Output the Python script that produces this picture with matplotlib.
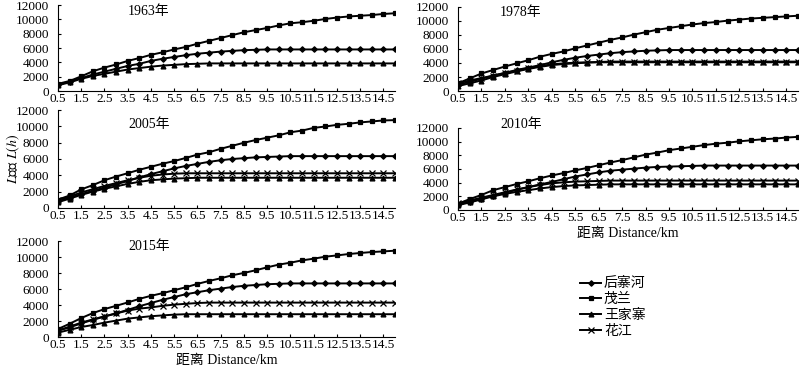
import numpy as np
import matplotlib
matplotlib.use('Agg')
import matplotlib.pyplot as plt

plt.rcParams['font.family'] = ['Liberation Serif', 'Noto Sans CJK SC']
plt.rcParams['mathtext.fontset'] = 'stix'

# distance (km), 0.5 .. 15.0
dist = [0.5, 1.0, 1.5, 2.0, 2.5, 3.0, 3.5, 4.0, 4.5, 5.0,
        5.5, 6.0, 6.5, 7.0, 7.5, 8.0, 8.5, 9.0, 9.5, 10.0,
        10.5, 11.0, 11.5, 12.0, 12.5, 13.0, 13.5, 14.0, 14.5, 15.0]
tick_pos = [0.5, 1.5, 2.5, 3.5, 4.5, 5.5, 6.5, 7.5, 8.5, 9.5, 10.5, 11.5, 12.5, 13.5, 14.5]
tick_lab = ['0.5', '1.5', '2.5', '3.5', '4.5', '5.5', '6.5', '7.5', '8.5', '9.5',
            '10.5', '11.5', '12.5', '13.5', '14.5']

names = ['后寨河', '茂兰', '王家寨', '花江']
markers = ['D', 's', '^', 'x']
msizes = [2.8, 3.3, 3.5, 3.8]

# 1963
hzh_1963 = [900, 1300, 1800, 2300, 2700, 3100, 3500, 3800, 4200, 4500,
            4750, 5000, 5200, 5350, 5500, 5600, 5700, 5750, 5800, 5800,
            5800, 5800, 5800, 5800, 5800, 5800, 5800, 5800, 5800, 5800]
ml_1963 = [1000, 1400, 2050, 2750, 3270, 3700, 4200, 4600, 5050, 5400,
           5800, 6150, 6600, 7000, 7400, 7800, 8200, 8500, 8800, 9150,
           9450, 9600, 9800, 10050, 10250, 10400, 10500, 10600, 10750, 10850]
wjz_1963 = [800, 1200, 1700, 2100, 2400, 2700, 3000, 3200, 3400, 3550,
            3650, 3750, 3800, 3850, 3850, 3850, 3850, 3850, 3850, 3850,
            3850, 3850, 3850, 3850, 3850, 3850, 3850, 3850, 3850, 3850]

# 1978
hzh_1978 = [900, 1300, 1750, 2200, 2600, 3000, 3350, 3700, 4100, 4450,
            4750, 5000, 5200, 5400, 5550, 5650, 5750, 5800, 5850, 5850,
            5850, 5850, 5850, 5850, 5850, 5850, 5850, 5850, 5850, 5850]
ml_1978 = [1100, 1800, 2500, 3000, 3500, 3950, 4400, 4900, 5300, 5650,
           6100, 6500, 6900, 7300, 7650, 8050, 8400, 8750, 9000, 9250,
           9500, 9700, 9850, 10050, 10200, 10350, 10450, 10550, 10650, 10750]
wjz_1978 = [700, 1100, 1500, 2000, 2400, 2800, 3150, 3450, 3700, 3850,
            3950, 4050, 4100, 4100, 4100, 4100, 4100, 4100, 4100, 4100,
            4100, 4100, 4100, 4100, 4100, 4100, 4100, 4100, 4100, 4100]
hj_1978 = [1100, 1500, 1850, 2200, 2550, 2900, 3250, 3550, 3800, 3950,
           4050, 4100, 4150, 4200, 4200, 4200, 4200, 4200, 4200, 4200,
           4200, 4200, 4200, 4200, 4200, 4200, 4200, 4200, 4200, 4200]

# 2005
hzh_2005 = [800, 1250, 1700, 2100, 2500, 2900, 3300, 3750, 4150, 4500,
            4850, 5150, 5400, 5650, 5850, 6000, 6100, 6200, 6250, 6300,
            6350, 6350, 6350, 6350, 6350, 6350, 6350, 6350, 6350, 6350]
ml_2005 = [1030, 1530, 2280, 2800, 3400, 3850, 4260, 4680, 5050, 5420,
           5750, 6130, 6540, 6830, 7250, 7620, 7990, 8320, 8610, 8900,
           9270, 9480, 9810, 9980, 10180, 10310, 10480, 10600, 10720, 10760]
wjz_2005 = [700, 1150, 1600, 2000, 2350, 2650, 2950, 3200, 3400, 3500,
            3600, 3650, 3700, 3700, 3700, 3700, 3700, 3700, 3700, 3700,
            3700, 3700, 3700, 3700, 3700, 3700, 3700, 3700, 3700, 3700]
hj_2005 = [1000, 1400, 1900, 2300, 2700, 3050, 3400, 3700, 3950, 4100,
           4200, 4250, 4250, 4250, 4250, 4250, 4250, 4250, 4250, 4250,
           4250, 4250, 4250, 4250, 4250, 4250, 4250, 4250, 4250, 4250]

# 2010
hzh_2010 = [800, 1200, 1650, 2100, 2500, 2950, 3350, 3750, 4100, 4500,
            4900, 5200, 5500, 5750, 5900, 6050, 6200, 6300, 6350, 6400,
            6450, 6500, 6500, 6500, 6500, 6500, 6500, 6500, 6500, 6500]
ml_2010 = [900, 1600, 2200, 2900, 3350, 3800, 4200, 4650, 5050, 5400,
           5800, 6150, 6550, 6950, 7300, 7700, 8100, 8400, 8750, 9000,
           9250, 9500, 9700, 9850, 10050, 10200, 10350, 10450, 10600, 10700]
wjz_2010 = [700, 1100, 1550, 2000, 2350, 2650, 2900, 3150, 3350, 3500,
            3600, 3650, 3700, 3750, 3750, 3750, 3750, 3750, 3750, 3750,
            3750, 3750, 3750, 3750, 3750, 3750, 3750, 3750, 3750, 3750]
hj_2010 = [1000, 1400, 1800, 2200, 2600, 3000, 3350, 3650, 3900, 4050,
           4150, 4200, 4250, 4300, 4300, 4300, 4300, 4300, 4300, 4300,
           4300, 4300, 4300, 4300, 4300, 4300, 4300, 4300, 4300, 4300]

# 2015
hzh_2015 = [800, 1200, 1700, 2150, 2550, 2950, 3400, 3850, 4250, 4650,
            5000, 5350, 5600, 5850, 6050, 6250, 6400, 6500, 6600, 6650,
            6700, 6700, 6700, 6700, 6700, 6700, 6700, 6700, 6700, 6700]
ml_2015 = [1000, 1660, 2370, 2990, 3490, 3900, 4320, 4770, 5150, 5480,
           5850, 6220, 6640, 7010, 7340, 7720, 8010, 8340, 8710, 9050,
           9290, 9580, 9790, 10040, 10200, 10370, 10500, 10620, 10700, 10790]
wjz_2015 = [550, 900, 1250, 1500, 1800, 2050, 2300, 2450, 2600, 2700,
            2800, 2850, 2850, 2850, 2850, 2850, 2850, 2850, 2850, 2850,
            2850, 2850, 2850, 2850, 2850, 2850, 2850, 2850, 2850, 2850]
hj_2015 = [800, 1300, 1800, 2200, 2600, 2950, 3300, 3550, 3700, 3900,
           4050, 4150, 4250, 4300, 4300, 4300, 4300, 4300, 4300, 4300,
           4300, 4300, 4300, 4300, 4300, 4300, 4300, 4300, 4300, 4300]

panels = [
    ('1963年', [hzh_1963, ml_1963, wjz_1963, None], [0.0725, 0.7547, 0.4213, 0.2318], (0.27, 0.93)),
    ('1978年', [hzh_1978, ml_1978, wjz_1978, hj_1978], [0.5725, 0.7547, 0.4250, 0.2265], (0.185, 0.93)),
    ('2005年', [hzh_2005, ml_2005, wjz_2005, hj_2005], [0.0725, 0.4394, 0.4213, 0.2641], (0.27, 0.85)),
    ('2010年', [hzh_2010, ml_2010, wjz_2010, hj_2010], [0.5725, 0.4340, 0.4250, 0.2210], (0.185, 1.04)),
    ('2015年', [hzh_2015, ml_2015, wjz_2015, hj_2015], [0.0725, 0.0916, 0.4213, 0.2588], (0.27, 0.94)),
]

fig = plt.figure(figsize=(8, 3.71), dpi=100)
handles = []
for k, (title, series, rect, tpos) in enumerate(panels):
    ax = fig.add_axes(rect)
    for i, s in enumerate(series):
        if s is None:
            continue
        ln, = ax.plot(dist, s, color='black', lw=1.4, marker=markers[i],
                      ms=msizes[i], mew=0.9, label=names[i])
        if k == 1:
            handles.append(ln)
    ax.set_xlim(0.5, 15)
    ax.set_ylim(0, 12000)
    ax.set_yticks(range(0, 12001, 2000))
    ax.set_xticks(tick_pos)
    ax.set_xticklabels(tick_lab)
    ax.tick_params(direction='in', length=2, labelsize=9.5)
    ax.tick_params(axis='x', pad=1.5)
    ax.tick_params(axis='y', pad=6.5)
    ax.spines['top'].set_visible(False)
    ax.spines['right'].set_visible(False)
    ax.text(tpos[0], tpos[1], title, transform=ax.transAxes,
            ha='center', va='center', fontsize=10, clip_on=False)
    if k in (3, 4):
        ax.set_xlabel('距离 Distance/km', fontsize=10, labelpad=2)
    if k == 2:
        ax.set_ylabel('$L$函数 $L(h)$', fontsize=10)
        ax.yaxis.set_label_coords(-0.107, 0.5)

fig.legend(handles=handles, labels=names, loc='upper left',
           bbox_to_anchor=(0.715, 0.275), frameon=False, fontsize=10,
           handlelength=1.5, handletextpad=0.2, labelspacing=0.2,
           borderpad=0.1)

fig.savefig('out.png', dpi=100)
